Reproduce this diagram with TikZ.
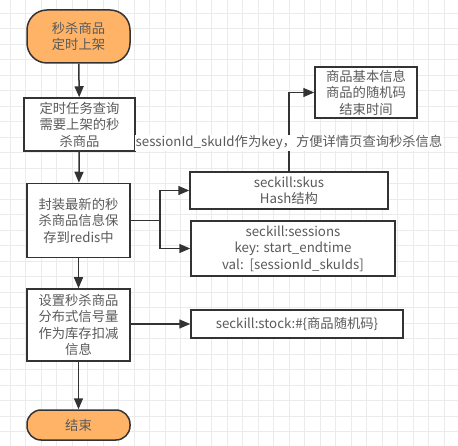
\documentclass[tikz,border=0pt]{standalone}
\usepackage{fontspec}
\setmainfont{Noto Sans CJK SC}
\usetikzlibrary{arrows.meta,calc}
\definecolor{gridgray}{HTML}{EBEBEB}
\definecolor{linegray}{HTML}{333333}
\definecolor{textgray}{HTML}{5A5A5A}
\definecolor{termorange}{HTML}{FFB366}
\tikzset{
	base/.style={draw=linegray, line width=1.5pt, text=textgray, align=center, inner sep=0pt,
		font=\fontsize{13.3}{16.5}\selectfont},
	term/.style={base, fill=termorange, rounded corners=14pt},
	proc/.style={base, fill=white},
	flow/.style={draw=linegray, line width=1.5pt, -{Triangle[length=11pt,width=9pt]}}
}
\newcommand{\drawgrid}[2]{
	\foreach \i in {0,...,29} {
		\draw[gridgray, line width=0.8pt] (10+15.5*\i,0) -- (10+15.5*\i,#2);
	}
	\foreach \j in {0,...,28} {
		\draw[gridgray, line width=0.8pt] (0,13+15.5*\j) -- (#1,13+15.5*\j);
	}
}
\begin{document}
\begin{tikzpicture}[x=1pt,y=-1pt]
	\useasboundingbox (0,0) rectangle (458,446);
	\fill[white] (0,0) rectangle (458,446);
	\drawgrid{458}{446}
	% main column
	\node[term, minimum width=103pt, minimum height=53pt, rounded corners=20pt] (start) at (78.5,36.5) {秒杀商品\\定时上架};
	\node[proc, minimum width=111pt, minimum height=53pt] (query) at (79.5,124.5) {定时任务查询\\需要上架的秒\\杀商品};
	\node[proc, minimum width=103pt, minimum height=74pt] (save) at (78.5,220.5) {封装最新的秒\\杀商品信息保\\存到redis中};
	\node[proc, minimum width=103pt, minimum height=72pt] (stock) at (78.5,325) {设置秒杀商品\\分布式信号量\\作为库存扣减\\信息};
	\node[term, minimum width=103pt, minimum height=30pt] (finish) at (78.5,425) {结束};
	% redis side
	\node[proc, minimum width=102pt, minimum height=51pt] (info) at (366,92.5) {商品基本信息\\商品的随机码\\结束时间};
	\node[proc, minimum width=198pt, minimum height=37pt] (skus) at (289,190.5) {seckill:skus\\Hash结构};
	\node[proc, minimum width=204pt, minimum height=55pt] (sessions) at (293,248.5) {seckill:sessions\\key: start\_endtime\\val:~~[sessionId\_skuIds]};
	\node[proc, minimum width=212pt, minimum height=28pt] (semaphore) at (297,324) {seckill:stock:\#\{商品随机码\}};
	\coordinate (fork) at (160,220.5);

	\draw[flow] (start) -- (query);
	\draw[flow] (query) -- (save);
	\draw[flow] (save) -- (stock);
	\draw[flow] (stock) -- (finish);
	\draw[flow] (save.east) -- (fork) |- (skus.west);
	\draw[flow] (fork) |- (sessions.west);
	\draw[flow] (stock.east |- semaphore.west) -- (semaphore.west);
	\draw[flow] (skus.north) |- node[pos=0.18, fill=white, inner sep=1pt, text=textgray,
		font=\fontsize{13.3}{16.5}\selectfont] (note) {sessionId\_skuId作为key，方便详情页查询秒杀信息} (info.west);
\end{tikzpicture}
\end{document}
